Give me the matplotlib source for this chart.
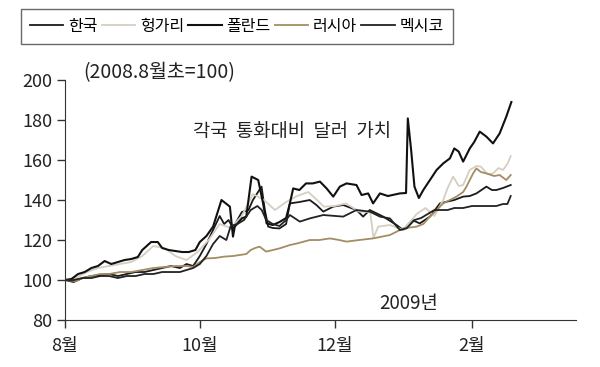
import matplotlib
matplotlib.use('Agg')
import matplotlib.pyplot as plt

plt.rcParams['font.family'] = ['Noto Sans CJK KR', 'DejaVu Sans']

# days since Aug 1 2008, index (2008.8 early = 100)
days_pl = [0, 3, 6, 9, 12, 15, 18, 21, 24, 27, 30, 33, 35, 37, 39, 42, 44, 47, 50, 53, 56, 59,
           61, 64, 67, 70.8, 74.6, 76, 76.8, 80, 82, 84.4, 87.4, 89.6, 91.2, 94, 97, 100, 101.7,
           103.2, 106, 109, 112, 115.3, 118.3, 121.3, 124.3, 127.3, 131.8, 134.1, 137.1, 139.3,
           142.4, 146, 151.4, 154.2, 155, 156.5, 158, 160, 162, 165, 168, 171, 174, 176, 178,
           180, 183, 185, 187.5, 190.5, 193.5, 196.5, 199.5, 201.8]
poland = [100, 100.5, 103, 104, 106, 107, 109.5, 108, 109, 110, 110.5, 111.5, 115, 117, 119, 119,
          116, 115, 114.5, 114, 114, 115, 119, 122, 126.7, 140, 136.7, 121.7, 126.7, 130.8,
          131.7, 151.7, 150, 138.3, 128.3, 127.5, 129, 131, 138.3, 145.8, 145, 148.3, 148.3,
          149.2, 145.8, 141.7, 146.7, 148.3, 147.5, 142.5, 143.3, 138.3, 143.3, 142, 143.3,
          143.5, 180.8, 165, 146.7, 141, 145, 150, 155, 158.3, 160.8, 165.8, 164.2, 159.2, 165.8,
          169, 174.2, 171.7, 168.3, 173.3, 181.7, 189]

days_hu = [0, 5, 10, 15, 20, 25, 30, 35, 40, 45, 50, 55, 60, 65, 70, 75, 80, 85, 90, 95, 100,
           105, 110, 114, 117, 122, 127, 133, 138, 139.5, 141.6, 147, 153, 159, 163, 167, 171,
           173, 175.5, 178, 180, 183, 186, 188, 191, 193.5, 196, 198, 200, 201.5]
hungary = [100, 101, 104, 106, 107, 108, 109, 112, 117, 116, 112, 110, 114, 120, 128, 126, 132,
           143, 140, 135, 139, 142, 144, 140, 136.7, 137, 138.3, 134.2, 134, 121, 126.7, 127.5,
           125, 133, 136, 132, 140, 146, 151.7, 147, 147.5, 155, 157, 156.7, 153, 153.3, 156, 155,
           158, 162]

days_ru = [0, 5, 8, 12, 16, 20, 25, 30, 35, 40, 45, 50, 55, 58, 61, 64, 68, 72, 76, 79, 82, 84,
           86, 88, 91, 94, 97, 101.7, 105, 110.7, 115, 119.8, 124, 127.3, 133, 139.3, 146.9,
           152.9, 159, 162, 165, 168, 171, 174, 177, 180, 181.5, 184.5, 186, 188, 190.5, 194,
           196.5, 199.5, 201.5]
russia = [100, 99.5, 101, 102, 103, 103, 104, 104, 105, 106, 106.5, 107, 107, 106.5, 109, 110.8,
          111, 111.7, 112, 112.5, 113, 115, 116, 116.7, 114.2, 115, 115.8, 117.5, 118.3, 120,
          120, 120.8, 120, 119.2, 120, 120.8, 122.5, 125.8, 126.7, 128, 131.7, 135, 138.3, 140,
          141.7, 144, 146.7, 153.3, 155.8, 154, 153.3, 152, 152.5, 150, 152.5]

days_kr = [0, 4, 8, 12, 16, 20, 24, 28, 32, 36, 40, 44, 48, 52, 55, 58, 61, 64, 67, 70, 72, 74,
           76, 78, 80, 83, 85, 88.9, 90.4, 91.9, 94, 97, 100, 101.7, 106, 110.7, 113.7, 116.8,
           121.3, 125.8, 131.8, 134.8, 137.8, 143.9, 149.9, 152.9, 157, 160.4, 165, 169.5, 172,
           176, 180, 183, 186, 190.5, 193, 195, 198, 201.5]
korea = [100, 99, 101, 102, 102.5, 103, 102, 103, 104, 104, 105, 106, 107, 106, 108, 107, 112,
         118, 125, 132, 128, 130, 126, 130, 134, 135, 140, 146.7, 135, 126.7, 126, 125.8, 128,
         138.3, 139, 140, 137.5, 134.2, 136.7, 137.5, 135, 131.7, 135, 131.7, 127.5, 125, 130,
         128.3, 131.7, 138.3, 139, 140, 141.7, 142, 143.3, 146.7, 145, 145, 146, 147.5]

days_mx = [0, 4, 8, 12, 16, 20, 24, 28, 32, 36, 40, 44, 48, 52, 55, 58, 61, 64, 67, 70, 73, 75,
           78, 81, 84, 87, 89, 91, 94, 97, 100, 101.7, 106.2, 110.7, 116.8, 125.8, 131.8, 137.8,
           142.4, 146.9, 151.4, 154.4, 158, 161, 164, 167, 170, 173, 176, 180, 184, 188, 192,
           195, 198, 200, 201.5]
mexico = [100, 100, 101, 101, 102, 102, 101, 102, 102, 103, 103, 104, 104, 104, 105, 106, 108,
          112, 118, 122, 120, 127, 128, 130, 135, 137, 135, 130, 128, 127, 130, 132.5, 129.2,
          130.8, 132.5, 131.7, 135, 134.2, 131.7, 130.8, 125, 125.8, 130, 131, 133, 135, 135,
          135, 136, 136, 137, 137, 137, 137, 138, 138, 142]

tick_days = [0, 61, 122, 184]
tick_labels = ['8월', '10월', '12월', '2월']

fig = plt.figure(figsize=(6, 3.67), dpi=100)
ax = fig.add_axes([0.108, 0.128, 0.852, 0.654])

ax.plot(days_kr, korea, color='#1a1a1a', lw=1.3, label='한국')
ax.plot(days_hu, hungary, color='#d6cec2', lw=1.3, label='헝가리')
ax.plot(days_pl, poland, color='#111111', lw=1.5, label='폴란드')
ax.plot(days_ru, russia, color='#a48c64', lw=1.3, label='러시아')
ax.plot(days_mx, mexico, color='#222222', lw=1.3, label='멕시코')

ax.set_xlim(0, 231)
ax.set_ylim(80, 200)
ax.set_yticks([80, 100, 120, 140, 160, 180, 200])
ax.set_xticks(tick_days)
ax.set_xticklabels(tick_labels)
ax.tick_params(direction='out', length=6, width=1, colors='#333333', labelcolor='#222222',
               labelsize=13)
ax.tick_params(axis='y', pad=3)
ax.tick_params(axis='x', pad=6)
ax.spines['top'].set_visible(False)
ax.spines['right'].set_visible(False)
ax.spines['left'].set_color('#333333')
ax.spines['bottom'].set_color('#333333')

fig.text(83 / 600, 1 - 73 / 367, '(2008.8월초=100)', fontsize=14, va='center', ha='left',
         color='#222222')
fig.text(193 / 600, 1 - 132 / 367, '각국  통화대비  달러  가치', fontsize=13.5, va='center',
         ha='left', color='#222222')
fig.text(379 / 600, 1 - 303 / 367, '2009년', fontsize=13.5, va='center', ha='left',
         color='#222222')

leg = fig.legend(loc='upper left', bbox_to_anchor=(21 / 600, 1 - 9 / 367), ncol=5,
                 fontsize=11.5, frameon=True, fancybox=False, handlelength=2.1,
                 handletextpad=0.3, columnspacing=0.25, borderpad=0.55, borderaxespad=0)
leg.get_frame().set_edgecolor('#444444')
leg.get_frame().set_linewidth(1)

fig.savefig('out.png', dpi=100)
